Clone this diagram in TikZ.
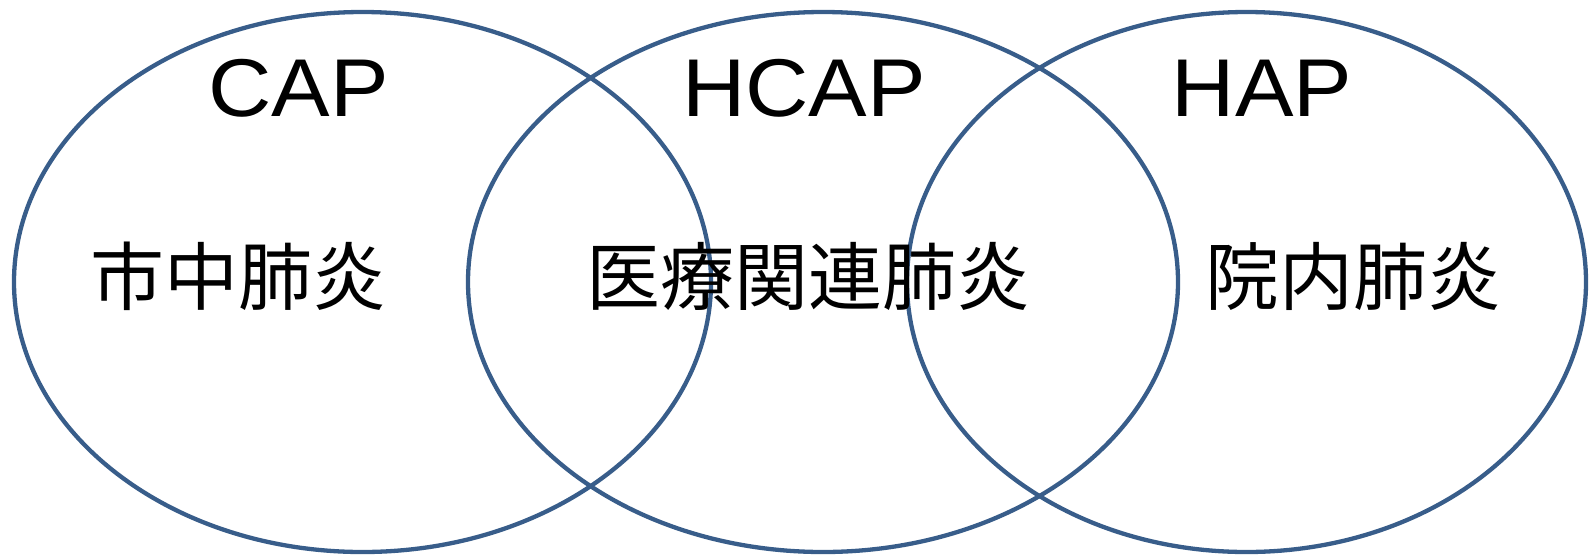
\documentclass[tikz,border=0pt]{standalone}
\usepackage{fontspec}
\setmainfont{Liberation Sans}
\newfontfamily\latwide[FakeStretch=1.07]{Liberation Sans}
\newfontfamily\cjk{Noto Sans CJK JP}
\definecolor{ringblue}{HTML}{385D8A}
\begin{document}
\begin{tikzpicture}[x=1pt,y=-1pt,
  ring/.style={draw=ringblue,line width=4.3pt},
  lat/.style={anchor=base,inner sep=0pt,font=\latwide\fontsize{82}{82}\selectfont},
  jp/.style={anchor=base,inner sep=0pt,font=\cjk\fontsize{74}{74}\selectfont}]
\useasboundingbox (0,0) rectangle (1590,558);
\draw[ring] (362.5,282) ellipse [x radius=348.5, y radius=270];
\draw[ring] (823,282) ellipse [x radius=355, y radius=270];
\draw[ring] (1246.5,282) ellipse [x radius=339.5, y radius=270];
\node[lat] (cap) at (298.5,116) {CAP};
\node[lat] (hcap) at (804,116) {HCAP};
\node[lat] (hap) at (1262,116) {HAP};
\node[jp] (j1) at (238,304) {市中肺炎};
\node[jp] (j2) at (808,304) {医療関連肺炎};
\node[jp] (j3) at (1353,304) {院内肺炎};
\end{tikzpicture}
\end{document}
